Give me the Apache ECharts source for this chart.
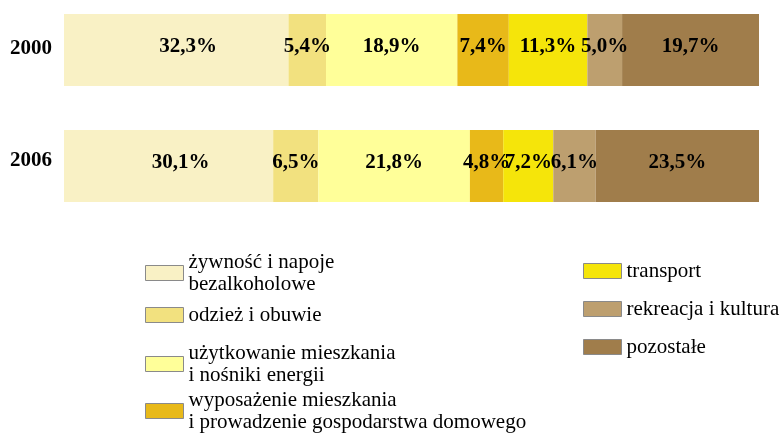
<!DOCTYPE html>
<html>
<head>
<meta charset="utf-8">
<script src="https://cdn.jsdelivr.net/npm/echarts@6/dist/echarts.min.js"></script>
<style>
html,body{margin:0;padding:0;background:#fff;}
#chart{width:783px;height:434px;}
</style>
</head>
<body>
<div id="chart"></div>
<script>
const categories = ['2000', '2006'];
const seriesNames = [
  'żywność i napoje\nbezalkoholowe',
  'odzież i obuwie',
  'użytkowanie mieszkania\ni nośniki energii',
  'wyposażenie mieszkania\ni prowadzenie gospodarstwa domowego',
  'transport',
  'rekreacja i kultura',
  'pozostałe'
];
const zywnosc = [32.3, 30.1];
const odziez = [5.4, 6.5];
const uzytkowanie = [18.9, 21.8];
const wyposazenie = [7.4, 4.8];
const transport = [11.3, 7.2];
const rekreacja = [5.0, 6.1];
const pozostale = [19.7, 23.5];
const seriesValues = [zywnosc, odziez, uzytkowanie, wyposazenie, transport, rekreacja, pozostale];
const colors = ['#F9F1C5', '#F2E17F', '#FFFF99', '#E8B919', '#F5E50A', '#BD9F6F', '#A07D4B'];

const chart = echarts.init(document.getElementById('chart'), null, {renderer: 'canvas'});
const serif = '"Liberation Serif", "DejaVu Serif", serif';

const series = seriesValues.map((vals, i) => ({
  name: seriesNames[i],
  type: 'bar',
  stack: 'total',
  barWidth: 72,
  data: vals,
  itemStyle: {color: colors[i]},
  label: {
    show: true,
    position: 'inside',
    offset: i === 0 ? [12, -3] : [0, -3],
    color: '#000',
    fontFamily: serif,
    fontWeight: 'bold',
    fontSize: 21,
    formatter: p => p.value.toFixed(1).replace('.', ',') + '%'
  },
  emphasis: {disabled: true}
}));

const legendBase = {
  orient: 'vertical',
  padding: 0,
  itemWidth: 38,
  itemHeight: 15,
  selectedMode: false,
  icon: 'rect',
  itemStyle: {borderColor: '#8a8a8a', borderWidth: 1},
  textStyle: {fontFamily: serif, fontSize: 21, color: '#000', lineHeight: 22}
};

const legends = [
  Object.assign({}, legendBase, {left: 145, top: 251, data: [seriesNames[0]]}),
  Object.assign({}, legendBase, {left: 145, top: 304, data: [seriesNames[1]]}),
  Object.assign({}, legendBase, {left: 145, top: 342, data: [seriesNames[2]]}),
  Object.assign({}, legendBase, {left: 145, top: 389, data: [seriesNames[3]]}),
  Object.assign({}, legendBase, {left: 583, top: 260, itemGap: 16, data: seriesNames.slice(4)})
];

chart.setOption({
  animation: false,
  backgroundColor: '#fff',
  legend: legends,
  grid: {left: 64, right: 24, top: 50, height: 116, containLabel: false},
  xAxis: {
    type: 'value', min: 0, max: 100, show: false
  },
  yAxis: {
    type: 'category',
    data: categories,
    inverse: true,
    boundaryGap: false,
    axisLine: {show: false},
    axisTick: {show: false},
    splitLine: {show: false},
    axisLabel: {
      margin: 12,
      formatter: (v, idx) => '{y' + idx + '|' + v + '}',
      rich: {
        y0: {fontFamily: serif, fontWeight: 'bold', fontSize: 21, color: '#000', padding: [0, 0, 3, 0]},
        y1: {fontFamily: serif, fontWeight: 'bold', fontSize: 21, color: '#000', padding: [0, 0, 10, 0]}
      }
    }
  },
  series: series
});
</script>
</body>
</html>
